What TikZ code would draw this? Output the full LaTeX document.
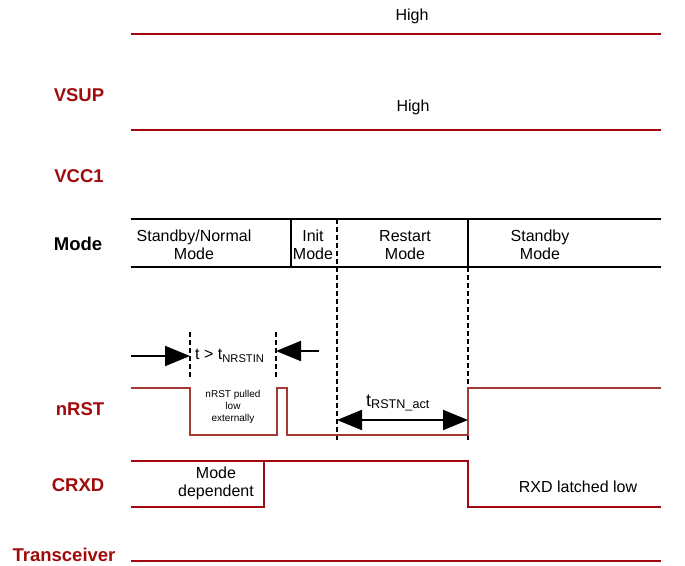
\documentclass[tikz,border=0pt]{standalone}
\usepackage{fontspec}
\setmainfont{Liberation Sans}
\usetikzlibrary{arrows.meta}
\definecolor{sigred}{RGB}{162,8,16}
\definecolor{rstred}{RGB}{163,58,52}
\definecolor{lblred}{RGB}{160,10,10}
\tikzset{
  sig/.style={draw=sigred,line width=2.8pt,line join=miter},
  rstsig/.style={draw=rstred,line width=2.8pt,line join=miter},
  siglabel/.style={text=lblred,font=\fontsize{18.5}{21}\selectfont\bfseries},
  txt/.style={font=\fontsize{16}{18}\selectfont,align=center,inner sep=0pt},
  small/.style={font=\fontsize{10}{12}\selectfont,align=center,inner sep=0pt},
  boxline/.style={draw=black,line width=2pt},
  dashline/.style={draw=black,line width=2pt,dash pattern=on 5pt off 3pt},
  bigarrow/.style={draw=black,line width=2pt,-{Triangle[length=25pt,width=20pt]}},
  dblarrow/.style={draw=black,line width=2pt,{Triangle[length=25pt,width=20pt]}-{Triangle[length=25pt,width=20pt]}}
}
\begin{document}
\begin{tikzpicture}[x=1pt,y=-1pt]
\useasboundingbox (0,0) rectangle (685,565);
% labels
\node[siglabel] (lvsup) at (79,95) {VSUP};
\node[siglabel] (lvcc) at (79,176) {VCC1};
\node[siglabel,text=black] (lmode) at (78,244) {Mode};
\node[siglabel] (lnrst) at (80,409) {nRST};
\node[siglabel] (lcrxd) at (78,485) {CRXD};
\node[siglabel] (ltr) at (64,555) {Transceiver};
% VSUP / VCC1
\coordinate (v1a) at (131,34); \coordinate (v1b) at (661,34);
\coordinate (v2a) at (131,130); \coordinate (v2b) at (661,130);
\draw[sig] (v1a) -- (v1b);
\draw[sig] (v2a) -- (v2b);
\node[txt] (h1) at (412,16) {High};
\node[txt] (h2) at (413,107) {High};
% Mode box
\coordinate (mtl) at (131,219); \coordinate (mtr) at (661,219);
\coordinate (mbl) at (131,267); \coordinate (mbr) at (661,267);
\draw[boxline] (mtl) -- (mtr);
\draw[boxline] (mbl) -- (mbr);
\coordinate (d1t) at (291,219); \coordinate (d1b) at (291,267);
\draw[boxline] (d1t) -- (d1b);
\coordinate (d3t) at (468,219); \coordinate (d3b) at (468,267);
\draw[boxline] (d3t) -- (d3b);
\coordinate (d2t) at (337,219); \coordinate (d2b) at (337,440);
\draw[dashline] (d2t) -- (d2b);
\coordinate (d4b) at (468,440);
\draw[dashline] (d3b) -- (d4b);
\node[txt] (m1) at (194,245) {Standby/Normal\\Mode};
\node[txt] (m2) at (313,245) {Init\\Mode};
\node[txt] (m3) at (405,245) {Restart\\Mode};
\node[txt] (m4) at (540,245) {Standby\\Mode};
% nRST timing marks
\coordinate (t1a) at (190,332); \coordinate (t1b) at (190,377);
\coordinate (t2a) at (276,332); \coordinate (t2b) at (276,377);
\draw[dashline] (t1a) -- (t1b);
\draw[dashline] (t2a) -- (t2b);
\coordinate (a1s) at (131,356); \coordinate (a1e) at (190,356);
\draw[bigarrow] (a1s) -- (a1e);
\coordinate (a2s) at (319,351); \coordinate (a2e) at (276,351);
\draw[bigarrow] (a2s) -- (a2e);
\node[txt,anchor=west] (tn) at (195,356) {t > t\textsubscript{NRSTIN}};
% nRST waveform
\draw[rstsig] (131,388) -- (190,388) -- (190,435) -- (277,435) -- (277,388) -- (287,388) -- (287,435) -- (468,435) -- (468,388) -- (661,388);
\node[small] (pull) at (233,407) {nRST pulled\\low\\externally};
\coordinate (r1) at (337,420); \coordinate (r2) at (468,420);
\draw[dblarrow] (r1) -- (r2);
\node[txt,font=\fontsize{18}{20}\selectfont] (tr) at (398,403) {t\textsubscript{RSTN\_act}};
% CRXD
\draw[sig] (131,461) -- (468,461) -- (468,507) -- (661,507);
\draw[sig] (131,507) -- (264,507) -- (264,461);
\node[txt] (md) at (216,483) {Mode\\dependent};
\node[txt] (rxd) at (578,487) {RXD latched low};
% Transceiver
\coordinate (tra) at (131,561); \coordinate (trb) at (661,561);
\draw[sig] (tra) -- (trb);
\end{tikzpicture}
\end{document}
